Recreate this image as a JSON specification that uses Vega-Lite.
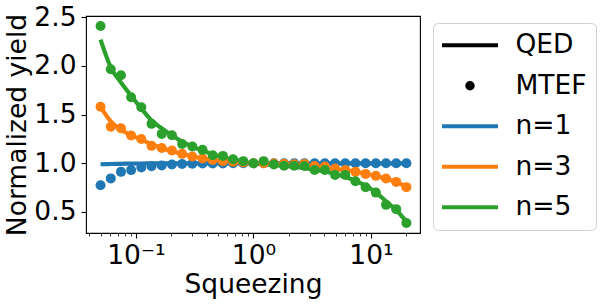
{
  "$schema": "https://vega.github.io/schema/vega-lite/v6.json",
  "width": 334,
  "height": 217,
  "autosize": "none",
  "padding": {"left": 86, "top": 16, "right": 183, "bottom": 73},
  "background": "white",
  "config": {
    "font": "DejaVu Sans",
    "view": {"stroke": "black", "strokeWidth": 1.1},
    "axis": {"grid": false, "domain": false, "tickColor": "black", "tickWidth": 1.1, "labelColor": "black", "titleColor": "black", "labelFont": "DejaVu Sans", "titleFont": "DejaVu Sans", "titleFontWeight": "normal", "labelFontSize": 26.5, "titleFontSize": 26.5}
  },
  "data": {"values": [
    {"x":0.05,"n":"n=1","t":"QED","y":0.99},{"x":0.0611,"n":"n=1","t":"QED","y":0.993},{"x":0.0746,"n":"n=1","t":"QED","y":0.995},{"x":0.091,"n":"n=1","t":"QED","y":0.997},{"x":0.1111,"n":"n=1","t":"QED","y":0.998},{"x":0.1357,"n":"n=1","t":"QED","y":0.999},{"x":0.1657,"n":"n=1","t":"QED","y":1.0},{"x":0.2023,"n":"n=1","t":"QED","y":1.0},{"x":0.2471,"n":"n=1","t":"QED","y":1.0},{"x":0.3017,"n":"n=1","t":"QED","y":1.0},{"x":0.3684,"n":"n=1","t":"QED","y":1.0},{"x":0.4498,"n":"n=1","t":"QED","y":1.0},{"x":0.5493,"n":"n=1","t":"QED","y":1.0},{"x":0.6707,"n":"n=1","t":"QED","y":1.0},{"x":0.819,"n":"n=1","t":"QED","y":1.0},{"x":1,"n":"n=1","t":"QED","y":1.0},{"x":1.221,"n":"n=1","t":"QED","y":1.0},{"x":1.4909,"n":"n=1","t":"QED","y":1.0},{"x":1.8206,"n":"n=1","t":"QED","y":1.0},{"x":2.223,"n":"n=1","t":"QED","y":1.0},{"x":2.7144,"n":"n=1","t":"QED","y":1.0},{"x":3.3145,"n":"n=1","t":"QED","y":1.0},{"x":4.0472,"n":"n=1","t":"QED","y":1.0},{"x":4.9419,"n":"n=1","t":"QED","y":1.0},{"x":6.0344,"n":"n=1","t":"QED","y":1.0},{"x":7.3685,"n":"n=1","t":"QED","y":1.0},{"x":8.9974,"n":"n=1","t":"QED","y":1.0},{"x":10.986,"n":"n=1","t":"QED","y":1.0},{"x":13.415,"n":"n=1","t":"QED","y":1.0},{"x":16.38,"n":"n=1","t":"QED","y":1.0},{"x":20,"n":"n=1","t":"QED","y":1.0},
    {"x":0.05,"n":"n=3","t":"QED","y":1.579},{"x":0.0611,"n":"n=3","t":"QED","y":1.43},{"x":0.0746,"n":"n=3","t":"QED","y":1.345},{"x":0.091,"n":"n=3","t":"QED","y":1.29},{"x":0.1111,"n":"n=3","t":"QED","y":1.243},{"x":0.1357,"n":"n=3","t":"QED","y":1.197},{"x":0.1657,"n":"n=3","t":"QED","y":1.158},{"x":0.2023,"n":"n=3","t":"QED","y":1.124},{"x":0.2471,"n":"n=3","t":"QED","y":1.097},{"x":0.3017,"n":"n=3","t":"QED","y":1.073},{"x":0.3684,"n":"n=3","t":"QED","y":1.052},{"x":0.4498,"n":"n=3","t":"QED","y":1.035},{"x":0.5493,"n":"n=3","t":"QED","y":1.022},{"x":0.6707,"n":"n=3","t":"QED","y":1.011},{"x":0.819,"n":"n=3","t":"QED","y":1.005},{"x":1,"n":"n=3","t":"QED","y":1.0},{"x":1.221,"n":"n=3","t":"QED","y":0.997},{"x":1.4909,"n":"n=3","t":"QED","y":0.994},{"x":1.8206,"n":"n=3","t":"QED","y":0.989},{"x":2.223,"n":"n=3","t":"QED","y":0.983},{"x":2.7144,"n":"n=3","t":"QED","y":0.976},{"x":3.3145,"n":"n=3","t":"QED","y":0.967},{"x":4.0472,"n":"n=3","t":"QED","y":0.957},{"x":4.9419,"n":"n=3","t":"QED","y":0.944},{"x":6.0344,"n":"n=3","t":"QED","y":0.93},{"x":7.3685,"n":"n=3","t":"QED","y":0.913},{"x":8.9974,"n":"n=3","t":"QED","y":0.893},{"x":10.986,"n":"n=3","t":"QED","y":0.869},{"x":13.415,"n":"n=3","t":"QED","y":0.841},{"x":16.38,"n":"n=3","t":"QED","y":0.805},{"x":20,"n":"n=3","t":"QED","y":0.758},
    {"x":0.05,"n":"n=5","t":"QED","y":2.27},{"x":0.0611,"n":"n=5","t":"QED","y":1.985},{"x":0.0746,"n":"n=5","t":"QED","y":1.83},{"x":0.091,"n":"n=5","t":"QED","y":1.694},{"x":0.1111,"n":"n=5","t":"QED","y":1.563},{"x":0.1357,"n":"n=5","t":"QED","y":1.44},{"x":0.1657,"n":"n=5","t":"QED","y":1.36},{"x":0.2023,"n":"n=5","t":"QED","y":1.285},{"x":0.2471,"n":"n=5","t":"QED","y":1.223},{"x":0.3017,"n":"n=5","t":"QED","y":1.172},{"x":0.3684,"n":"n=5","t":"QED","y":1.131},{"x":0.4498,"n":"n=5","t":"QED","y":1.093},{"x":0.5493,"n":"n=5","t":"QED","y":1.063},{"x":0.6707,"n":"n=5","t":"QED","y":1.039},{"x":0.819,"n":"n=5","t":"QED","y":1.018},{"x":1,"n":"n=5","t":"QED","y":1.0},{"x":1.221,"n":"n=5","t":"QED","y":0.99},{"x":1.4909,"n":"n=5","t":"QED","y":0.981},{"x":1.8206,"n":"n=5","t":"QED","y":0.972},{"x":2.223,"n":"n=5","t":"QED","y":0.962},{"x":2.7144,"n":"n=5","t":"QED","y":0.951},{"x":3.3145,"n":"n=5","t":"QED","y":0.935},{"x":4.0472,"n":"n=5","t":"QED","y":0.916},{"x":4.9419,"n":"n=5","t":"QED","y":0.89},{"x":6.0344,"n":"n=5","t":"QED","y":0.86},{"x":7.3685,"n":"n=5","t":"QED","y":0.82},{"x":8.9974,"n":"n=5","t":"QED","y":0.77},{"x":10.986,"n":"n=5","t":"QED","y":0.7},{"x":13.415,"n":"n=5","t":"QED","y":0.61},{"x":16.38,"n":"n=5","t":"QED","y":0.52},{"x":20,"n":"n=5","t":"QED","y":0.4},
    {"x":0.05,"n":"n=1","t":"MTEF","y":0.775},{"x":0.0611,"n":"n=1","t":"MTEF","y":0.845},{"x":0.0746,"n":"n=1","t":"MTEF","y":0.912},{"x":0.091,"n":"n=1","t":"MTEF","y":0.93},{"x":0.1111,"n":"n=1","t":"MTEF","y":0.957},{"x":0.1357,"n":"n=1","t":"MTEF","y":0.97},{"x":0.1657,"n":"n=1","t":"MTEF","y":0.977},{"x":0.2023,"n":"n=1","t":"MTEF","y":0.988},{"x":0.2471,"n":"n=1","t":"MTEF","y":0.992},{"x":0.3017,"n":"n=1","t":"MTEF","y":0.995},{"x":0.3684,"n":"n=1","t":"MTEF","y":0.997},{"x":0.4498,"n":"n=1","t":"MTEF","y":0.998},{"x":0.5493,"n":"n=1","t":"MTEF","y":0.999},{"x":0.6707,"n":"n=1","t":"MTEF","y":1.0},{"x":0.819,"n":"n=1","t":"MTEF","y":1.0},{"x":1,"n":"n=1","t":"MTEF","y":1.0},{"x":1.221,"n":"n=1","t":"MTEF","y":1.0},{"x":1.4909,"n":"n=1","t":"MTEF","y":1.0},{"x":1.8206,"n":"n=1","t":"MTEF","y":1.0},{"x":2.223,"n":"n=1","t":"MTEF","y":1.0},{"x":2.7144,"n":"n=1","t":"MTEF","y":1.0},{"x":3.3145,"n":"n=1","t":"MTEF","y":1.0},{"x":4.0472,"n":"n=1","t":"MTEF","y":1.0},{"x":4.9419,"n":"n=1","t":"MTEF","y":1.0},{"x":6.0344,"n":"n=1","t":"MTEF","y":1.0},{"x":7.3685,"n":"n=1","t":"MTEF","y":1.0},{"x":8.9974,"n":"n=1","t":"MTEF","y":1.0},{"x":10.986,"n":"n=1","t":"MTEF","y":1.0},{"x":13.415,"n":"n=1","t":"MTEF","y":1.0},{"x":16.38,"n":"n=1","t":"MTEF","y":1.0},{"x":20,"n":"n=1","t":"MTEF","y":1.0},
    {"x":0.05,"n":"n=3","t":"MTEF","y":1.58},{"x":0.0611,"n":"n=3","t":"MTEF","y":1.376},{"x":0.0746,"n":"n=3","t":"MTEF","y":1.36},{"x":0.091,"n":"n=3","t":"MTEF","y":1.285},{"x":0.1111,"n":"n=3","t":"MTEF","y":1.25},{"x":0.1357,"n":"n=3","t":"MTEF","y":1.179},{"x":0.1657,"n":"n=3","t":"MTEF","y":1.158},{"x":0.2023,"n":"n=3","t":"MTEF","y":1.131},{"x":0.2471,"n":"n=3","t":"MTEF","y":1.097},{"x":0.3017,"n":"n=3","t":"MTEF","y":1.069},{"x":0.3684,"n":"n=3","t":"MTEF","y":1.049},{"x":0.4498,"n":"n=3","t":"MTEF","y":1.035},{"x":0.5493,"n":"n=3","t":"MTEF","y":1.022},{"x":0.6707,"n":"n=3","t":"MTEF","y":1.015},{"x":0.819,"n":"n=3","t":"MTEF","y":1.008},{"x":1,"n":"n=3","t":"MTEF","y":1.0},{"x":1.221,"n":"n=3","t":"MTEF","y":1.0},{"x":1.4909,"n":"n=3","t":"MTEF","y":0.998},{"x":1.8206,"n":"n=3","t":"MTEF","y":0.995},{"x":2.223,"n":"n=3","t":"MTEF","y":0.99},{"x":2.7144,"n":"n=3","t":"MTEF","y":0.994},{"x":3.3145,"n":"n=3","t":"MTEF","y":0.973},{"x":4.0472,"n":"n=3","t":"MTEF","y":0.966},{"x":4.9419,"n":"n=3","t":"MTEF","y":0.946},{"x":6.0344,"n":"n=3","t":"MTEF","y":0.932},{"x":7.3685,"n":"n=3","t":"MTEF","y":0.912},{"x":8.9974,"n":"n=3","t":"MTEF","y":0.891},{"x":10.986,"n":"n=3","t":"MTEF","y":0.871},{"x":13.415,"n":"n=3","t":"MTEF","y":0.843},{"x":16.38,"n":"n=3","t":"MTEF","y":0.809},{"x":20,"n":"n=3","t":"MTEF","y":0.755},
    {"x":0.05,"n":"n=5","t":"MTEF","y":2.411},{"x":0.0611,"n":"n=5","t":"MTEF","y":1.966},{"x":0.0746,"n":"n=5","t":"MTEF","y":1.905},{"x":0.091,"n":"n=5","t":"MTEF","y":1.679},{"x":0.1111,"n":"n=5","t":"MTEF","y":1.576},{"x":0.1357,"n":"n=5","t":"MTEF","y":1.405},{"x":0.1657,"n":"n=5","t":"MTEF","y":1.302},{"x":0.2023,"n":"n=5","t":"MTEF","y":1.288},{"x":0.2471,"n":"n=5","t":"MTEF","y":1.199},{"x":0.3017,"n":"n=5","t":"MTEF","y":1.172},{"x":0.3684,"n":"n=5","t":"MTEF","y":1.138},{"x":0.4498,"n":"n=5","t":"MTEF","y":1.083},{"x":0.5493,"n":"n=5","t":"MTEF","y":1.076},{"x":0.6707,"n":"n=5","t":"MTEF","y":1.042},{"x":0.819,"n":"n=5","t":"MTEF","y":1.022},{"x":1,"n":"n=5","t":"MTEF","y":1.001},{"x":1.221,"n":"n=5","t":"MTEF","y":1.022},{"x":1.4909,"n":"n=5","t":"MTEF","y":0.987},{"x":1.8206,"n":"n=5","t":"MTEF","y":0.974},{"x":2.223,"n":"n=5","t":"MTEF","y":0.974},{"x":2.7144,"n":"n=5","t":"MTEF","y":0.973},{"x":3.3145,"n":"n=5","t":"MTEF","y":0.932},{"x":4.0472,"n":"n=5","t":"MTEF","y":0.932},{"x":4.9419,"n":"n=5","t":"MTEF","y":0.881},{"x":6.0344,"n":"n=5","t":"MTEF","y":0.881},{"x":7.3685,"n":"n=5","t":"MTEF","y":0.816},{"x":8.9974,"n":"n=5","t":"MTEF","y":0.754},{"x":10.986,"n":"n=5","t":"MTEF","y":0.699},{"x":13.415,"n":"n=5","t":"MTEF","y":0.573},{"x":16.38,"n":"n=5","t":"MTEF","y":0.529},{"x":20,"n":"n=5","t":"MTEF","y":0.386}
  ]},
  "resolve": {"axis": {"x": "independent"}},
  "layer": [
    {
      "transform": [{"filter": "datum.t === 'QED'"}],
      "mark": {"type": "line", "strokeWidth": 4.2, "interpolate": "monotone"},
      "encoding": {
        "x": {"field": "x", "type": "quantitative", "scale": {"type": "log", "domain": [0.0376, 26.1], "nice": false},
              "axis": {"orient": "bottom", "title": "Squeezing", "values": [0.1, 1, 10], "labelExpr": "datum.value < 0.5 ? '10⁻¹' : datum.value < 5 ? '10⁰' : '10¹'", "tickSize": 5, "labelPadding": 4, "titlePadding": 3, "labelFlush": false, "labelOverlap": false}},
        "y": {"field": "y", "type": "quantitative", "scale": {"domain": [0.284, 2.513], "nice": false, "zero": false},
              "axis": {"title": "Normalized yield", "values": [0.5, 1, 1.5, 2, 2.5], "format": ".1f", "tickSize": 5, "labelPadding": 5, "titlePadding": 2}},
        "color": {"field": "n", "type": "nominal",
          "scale": {"domain": ["QED", "MTEF", "n=1", "n=3", "n=5"], "range": ["#000000", "#000000", "#1f77b4", "#ff7f0e", "#2ca02c"]},
          "legend": {"title": null, "orient": "none", "legendX": 347, "legendY": 7, "padding": 9, "rowPadding": 13.5, "symbolType": "stroke", "symbolSize": 3136, "symbolStrokeWidth": 4, "labelFontSize": 26.5, "labelFont": "DejaVu Sans", "labelColor": "black", "labelOffset": 47, "strokeColor": "#d0d0d0", "fillColor": "white", "cornerRadius": 5,
            "encode": {"symbols": {"update": {
              "x": {"value": 28},
              "shape": {"signal": "datum.value === 'MTEF' ? 'circle' : 'stroke'"},
              "size": {"signal": "datum.value === 'MTEF' ? 90 : 3136"},
              "strokeWidth": {"signal": "datum.value === 'MTEF' ? 0 : 4.2"},
              "stroke": {"signal": "datum.value === 'n=1' ? '#1f77b4' : datum.value === 'n=3' ? '#ff7f0e' : datum.value === 'n=5' ? '#2ca02c' : '#000000'"},
              "fill": {"signal": "datum.value === 'MTEF' ? '#000000' : 'transparent'"},
              "opacity": {"value": 1}
            }}}}
        }
      }
    },
    {
      "transform": [{"filter": "datum.t === 'MTEF'"}],
      "mark": {"type": "circle", "size": 100, "opacity": 1},
      "encoding": {
        "x": {"field": "x", "type": "quantitative", "scale": {"type": "log", "domain": [0.0376, 26.1], "nice": false},
              "axis": {"orient": "bottom", "title": null, "labels": false, "values": [0.04, 0.05, 0.06, 0.07, 0.08, 0.09, 0.2, 0.3, 0.4, 0.5, 0.6, 0.7, 0.8, 0.9, 2, 3, 4, 5, 6, 7, 8, 9, 20], "tickSize": 3, "tickWidth": 0.8}},
        "y": {"field": "y", "type": "quantitative", "scale": {"domain": [0.284, 2.513], "nice": false, "zero": false},
              "axis": {"title": "Normalized yield", "values": [0.5, 1, 1.5, 2, 2.5], "format": ".1f", "tickSize": 5, "labelPadding": 5, "titlePadding": 2}},
        "color": {"field": "n", "type": "nominal",
          "scale": {"domain": ["QED", "MTEF", "n=1", "n=3", "n=5"], "range": ["#000000", "#000000", "#1f77b4", "#ff7f0e", "#2ca02c"]},
          "legend": {"title": null, "orient": "none", "legendX": 347, "legendY": 7, "padding": 9, "rowPadding": 13.5, "symbolType": "stroke", "symbolSize": 3136, "symbolStrokeWidth": 4, "labelFontSize": 26.5, "labelFont": "DejaVu Sans", "labelColor": "black", "labelOffset": 47, "strokeColor": "#d0d0d0", "fillColor": "white", "cornerRadius": 5,
            "encode": {"symbols": {"update": {
              "x": {"value": 28},
              "shape": {"signal": "datum.value === 'MTEF' ? 'circle' : 'stroke'"},
              "size": {"signal": "datum.value === 'MTEF' ? 90 : 3136"},
              "strokeWidth": {"signal": "datum.value === 'MTEF' ? 0 : 4.2"},
              "stroke": {"signal": "datum.value === 'n=1' ? '#1f77b4' : datum.value === 'n=3' ? '#ff7f0e' : datum.value === 'n=5' ? '#2ca02c' : '#000000'"},
              "fill": {"signal": "datum.value === 'MTEF' ? '#000000' : 'transparent'"},
              "opacity": {"value": 1}
            }}}}
        }
      }
    }
  ]
}
